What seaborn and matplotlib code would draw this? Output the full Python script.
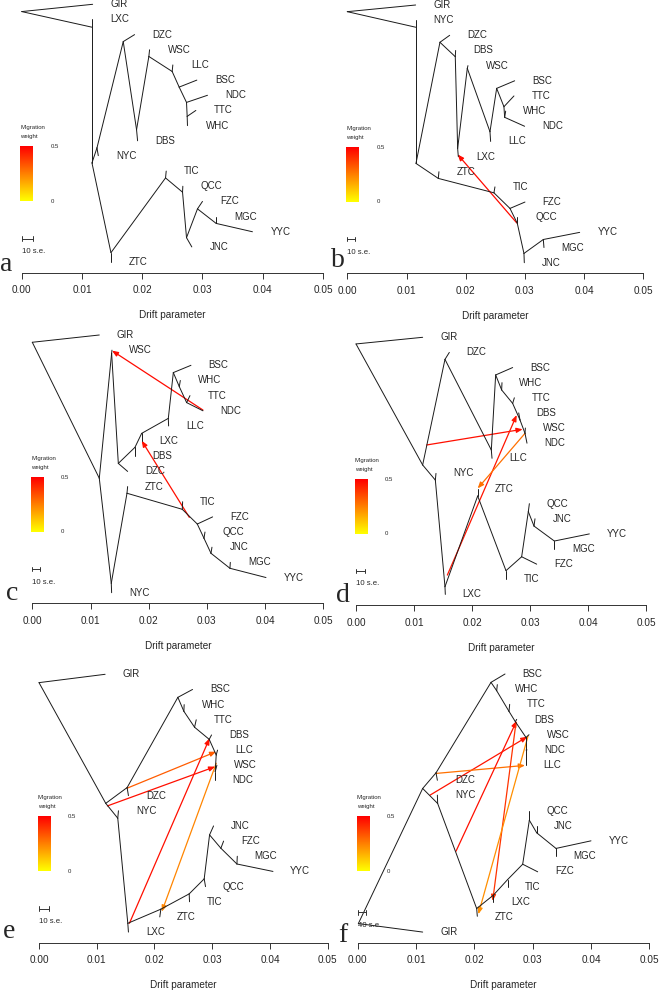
import matplotlib
matplotlib.use("Agg")
import matplotlib.pyplot as plt
import numpy as np
import pandas as pd
import seaborn as sns
from matplotlib.colors import LinearSegmentedColormap
from matplotlib.patches import FancyArrowPatch

# TreeMix trees, 0-5 migration edges.
# node -> (drift, row); tips are named by population, rows count down from the top leaf

order_a = ["GIR", "LXC", "DZC", "WSC", "LLC", "BSC", "NDC", "TTC", "WHC", "DBS",
           "NYC", "TIC", "QCC", "FZC", "MGC", "YYC", "JNC", "ZTC"]
nodes_a = {
    "root": (0.0, 0.48), "GIR": (0.01177, 0.0), "A": (0.01166, 1.51), "LXC": (0.01166, 1.0),
    "B": (0.01166, 10.46), "D": (0.01249, 9.47), "NYC": (0.01271, 9.98),
    "E": (0.01685, 2.46), "DZC": (0.01873, 2.0), "F": (0.01906, 8.27), "DBS": (0.01923, 9.0),
    "G": (0.0211, 3.44), "WSC": (0.02122, 3.0), "H": (0.02497, 4.43), "LLC": (0.02508, 4.0),
    "I": (0.02613, 5.46), "BSC": (0.02906, 5.0), "J": (0.02735, 6.47), "NDC": (0.03083, 6.0),
    "K": (0.02746, 7.39), "TTC": (0.0289, 7.0), "WHC": (0.02751, 8.0),
    "C": (0.01481, 16.38), "ZTC": (0.01481, 17.0), "L": (0.02387, 11.45), "TIC": (0.02398, 11.0),
    "M": (0.02669, 12.39), "QCC": (0.02674, 12.0), "N": (0.02735, 15.39), "JNC": (0.02823, 16.0),
    "O": (0.02917, 13.49), "FZC": (0.0300, 13.0), "P": (0.03227, 14.45), "MGC": (0.03227, 14.0),
    "YYC": (0.03829, 15.0),
}
edges_a = ("root-GIR root-A A-LXC A-B B-D D-NYC D-E E-DZC E-F F-DBS F-G G-WSC G-H H-LLC "
           "H-I I-BSC I-J J-NDC J-K K-TTC K-WHC B-C C-ZTC C-L L-TIC L-M M-QCC M-N N-JNC "
           "N-O O-FZC O-P P-MGC P-YYC").split()
migs_a = []

order_b = ["GIR", "NYC", "DZC", "DBS", "WSC", "BSC", "TTC", "WHC", "NDC", "LLC",
           "LXC", "ZTC", "TIC", "FZC", "QCC", "YYC", "MGC", "JNC"]
nodes_b = {
    "root": (0.0, 0.44), "GIR": (0.01154, 0.0), "A": (0.0116, 1.47), "NYC": (0.0116, 1.0),
    "B": (0.0116, 10.45), "C": (0.01565, 2.46), "DZC": (0.01729, 2.0), "D": (0.01824, 3.41),
    "DBS": (0.0183, 3.0), "F": (0.01864, 9.46), "LXC": (0.01875, 10.0), "G": (0.02027, 4.18),
    "WSC": (0.02038, 4.0), "H": (0.0241, 8.36), "LLC": (0.02421, 9.0), "I": (0.02523, 5.5),
    "BSC": (0.02827, 5.0), "J": (0.02646, 6.71), "TTC": (0.02815, 6.0), "K": (0.02658, 7.41),
    "WHC": (0.02675, 7.0), "NDC": (0.02995, 8.0),
    "L": (0.01537, 11.44), "ZTC": (0.01548, 11.0), "M": (0.02477, 12.39), "TIC": (0.02494, 12.0),
    "N": (0.02748, 13.42), "FZC": (0.03001, 13.0), "O": (0.02872, 14.41), "QCC": (0.02872, 14.0),
    "P": (0.02984, 16.39), "JNC": (0.0299, 17.0), "Q": (0.03311, 15.47), "MGC": (0.03322, 16.0),
    "YYC": (0.03925, 15.0),
}
edges_b = ("root-GIR root-A A-NYC A-B B-C C-DZC C-D D-DBS D-F F-LXC F-G G-WSC G-H H-LLC "
           "H-I I-BSC I-J J-TTC J-K K-WHC K-NDC B-L L-ZTC L-M M-TIC M-N N-FZC N-O O-QCC "
           "O-P P-JNC P-Q Q-MGC Q-YYC").split()
migs_b = [(0.02861, 14.37, 0.01864, 9.86, 0.48)]

order_c = ["GIR", "WSC", "BSC", "WHC", "TTC", "NDC", "LLC", "LXC", "DBS", "DZC",
           "ZTC", "TIC", "FZC", "QCC", "JNC", "MGC", "YYC", "NYC"]
nodes_c = {
    "root": (0.0, 0.48), "GIR": (0.01151, 0.0), "A": (0.01151, 9.45), "W": (0.01363, 1.21),
    "WSC": (0.01369, 1.0), "B": (0.01478, 8.47), "DZC": (0.01638, 9.0), "C": (0.01764, 7.41),
    "DBS": (0.01764, 8.0), "D": (0.01879, 6.49), "LXC": (0.01879, 7.0), "E": (0.02337, 5.5),
    "LLC": (0.02342, 6.0), "F": (0.02423, 2.48), "BSC": (0.02726, 2.0), "G": (0.02526, 3.41),
    "WHC": (0.02543, 3.0), "H": (0.02652, 4.46), "TTC": (0.02709, 4.0), "NDC": (0.02932, 5.0),
    "N": (0.01357, 16.38), "NYC": (0.01363, 17.0), "O": (0.01627, 10.44), "ZTC": (0.01638, 10.0),
    "P": (0.02577, 11.5), "TIC": (0.02583, 11.0), "Q": (0.02835, 12.47), "FZC": (0.03098, 12.0),
    "R": (0.0295, 13.41), "QCC": (0.02967, 13.0), "S": (0.0307, 14.4), "JNC": (0.03087, 14.0),
    "T": (0.03396, 15.39), "MGC": (0.03402, 15.0), "YYC": (0.04015, 16.0),
}
edges_c = ("root-GIR root-A A-W W-WSC W-B B-DZC B-C C-DBS C-D D-LXC D-E E-LLC E-F F-BSC "
           "F-G G-WHC G-H H-TTC H-NDC A-N N-NYC N-O O-ZTC O-P P-TIC P-Q Q-FZC Q-R R-QCC "
           "R-S S-JNC S-T T-MGC T-YYC").split()
migs_c = [(0.02932, 4.95, 0.01369, 1.03, 0.48),
          (0.02698, 12.03, 0.01879, 6.97, 0.47)]

order_d = ["GIR", "DZC", "BSC", "WHC", "TTC", "DBS", "WSC", "NDC", "LLC", "NYC",
           "ZTC", "QCC", "JNC", "YYC", "MGC", "FZC", "TIC", "LXC"]
nodes_d = {
    "root": (0.0, 0.44), "GIR": (0.01149, 0.0), "A": (0.01149, 8.44), "B": (0.01534, 1.46),
    "DZC": (0.01609, 1.0), "C": (0.02333, 7.45), "LLC": (0.02345, 8.0), "D": (0.02408, 2.49),
    "BSC": (0.02701, 2.0), "E": (0.02511, 3.48), "WHC": (0.02517, 3.0), "F": (0.02701, 4.37),
    "TTC": (0.0273, 4.0), "G": (0.02828, 5.47), "DBS": (0.02805, 5.0), "H": (0.02914, 6.35),
    "WSC": (0.0292, 6.0), "NDC": (0.02948, 7.0),
    "I": (0.01368, 9.44), "NYC": (0.01379, 9.0), "J": (0.01534, 16.49), "LXC": (0.0154, 17.0),
    "K": (0.02098, 10.49), "ZTC": (0.02098, 10.0), "L": (0.02586, 15.43), "TIC": (0.02586, 16.0),
    "M": (0.02856, 14.51), "FZC": (0.03115, 15.0), "N": (0.02971, 11.53), "QCC": (0.02989, 11.0),
    "O": (0.03069, 12.48), "JNC": (0.03086, 12.0), "P": (0.0342, 13.47), "MGC": (0.0342, 14.0),
    "YYC": (0.04023, 13.0),
}
edges_d = ("root-GIR root-A A-B B-DZC B-C C-LLC C-D D-BSC D-E E-WHC E-F F-TTC F-G G-DBS "
           "G-H H-WSC H-NDC A-I I-NYC I-J J-LXC J-K K-ZTC K-L L-TIC L-M M-FZC M-N N-QCC "
           "N-O O-JNC O-P P-MGC P-YYC").split()
migs_d = [(0.01218, 7.12, 0.02874, 6.08, 0.47),
          (0.01575, 15.72, 0.0277, 5.14, 0.46),
          (0.02914, 6.35, 0.02098, 9.99, 0.28)]

order_e = ["GIR", "BSC", "WHC", "TTC", "DBS", "LLC", "WSC", "NDC", "DZC", "NYC",
           "JNC", "FZC", "MGC", "YYC", "QCC", "TIC", "ZTC", "LXC"]
nodes_e = {
    "root": (0.0, 0.55), "GIR": (0.01145, 0.0), "A": (0.01156, 8.51), "B": (0.01526, 7.47),
    "DZC": (0.01549, 8.0), "C": (0.02405, 1.52), "BSC": (0.02659, 1.0), "D": (0.02509, 2.44),
    "WHC": (0.02514, 2.0), "E": (0.02694, 3.49), "TTC": (0.02723, 3.0), "F": (0.02948, 4.29),
    "DBS": (0.02988, 4.0), "G": (0.03069, 5.32), "LLC": (0.03092, 5.0), "H": (0.03052, 6.42),
    "WSC": (0.03081, 6.0), "NDC": (0.03052, 7.0),
    "I": (0.01364, 9.49), "NYC": (0.01376, 9.0), "J": (0.01538, 16.42), "LXC": (0.01549, 17.0),
    "K": (0.0211, 15.49), "ZTC": (0.02092, 16.0), "L": (0.02601, 14.48), "TIC": (0.02607, 15.0),
    "M": (0.02861, 13.49), "QCC": (0.02884, 14.0), "N": (0.02954, 10.59), "JNC": (0.03023, 10.0),
    "O": (0.0315, 11.47), "FZC": (0.03197, 11.0), "P": (0.03428, 12.51), "MGC": (0.03434, 12.0),
    "YYC": (0.04052, 13.0),
}
edges_e = ("root-GIR root-A A-B B-DZC B-C C-BSC C-D D-WHC D-E E-TTC E-F F-DBS F-G G-LLC "
           "G-H H-WSC H-NDC A-I I-NYC I-J J-LXC J-K K-ZTC K-L L-TIC L-M M-QCC M-N N-JNC "
           "N-O O-FZC O-P P-MGC P-YYC").split()
migs_e = [(0.01185, 8.68, 0.03052, 6.09, 0.47),
          (0.0152, 7.52, 0.03069, 5.10, 0.32),
          (0.01566, 16.42, 0.02954, 4.22, 0.47),
          (0.03069, 5.87, 0.02127, 15.65, 0.24)]

order_f = ["BSC", "WHC", "TTC", "DBS", "WSC", "NDC", "LLC", "DZC", "NYC", "QCC",
           "JNC", "YYC", "MGC", "FZC", "TIC", "LXC", "ZTC", "GIR"]
nodes_f = {
    "root": (0.00011, 16.44), "GIR": (0.01114, 17.0), "A": (0.01114, 7.54), "B": (0.01343, 6.51),
    "DZC": (0.01366, 7.0), "C": (0.02286, 0.55), "BSC": (0.02526, 0.0), "D": (0.02383, 1.10),
    "WHC": (0.02394, 0.7), "E": (0.02594, 2.46), "TTC": (0.02606, 2.0), "F": (0.02703, 3.14),
    "DBS": (0.02726, 2.99), "G": (0.02886, 4.18), "WSC": (0.02937, 4.0), "H": (0.02886, 5.01),
    "NDC": (0.02903, 5.0), "LLC": (0.02886, 6.02),
    "I": (0.01371, 8.53), "NYC": (0.01366, 7.98), "J": (0.0204, 15.45), "ZTC": (0.02051, 15.96),
    "K": (0.02326, 14.57), "LXC": (0.02326, 14.99), "L": (0.02571, 13.54), "TIC": (0.02571, 14.02),
    "M": (0.02829, 12.53), "FZC": (0.03086, 13.03), "N": (0.02943, 9.63), "QCC": (0.02943, 9.01),
    "O": (0.03069, 10.46), "JNC": (0.03069, 10.0), "P": (0.034, 11.49), "MGC": (0.034, 12.0),
    "YYC": (0.04, 10.99),
}
edges_f = ("root-GIR root-A A-B B-DZC B-C C-BSC C-D D-WHC D-E E-TTC E-F F-DBS F-G G-WSC "
           "G-H H-NDC H-LLC A-I I-NYC I-J J-ZTC J-K K-LXC K-L L-TIC L-M M-FZC M-N N-QCC "
           "N-O O-JNC O-P P-MGC P-YYC").split()
migs_f = [(0.0124, 7.98, 0.02909, 4.13, 0.46),
          (0.01343, 6.55, 0.02869, 6.02, 0.28),
          (0.01686, 11.67, 0.02726, 3.08, 0.47),
          (0.02714, 3.21, 0.02314, 14.95, 0.40),
          (0.0292, 4.09, 0.02069, 15.82, 0.22)]

se_labels = ["10 s.e.", "10 s.e.", "10 s.e.", "10 s.e.", "10 s.e.", "40 s.e."]
se_widths = [0.0019, 0.0013, 0.0013, 0.0016, 0.0017, 0.0014]
panel_letters = ["a", "b", "c", "d", "e", "f"]
drift_ticks = [0.0, 0.01, 0.02, 0.03, 0.04, 0.05]

# panel boxes in pixels: x of drift 0, x of drift 0.05, y of top leaf, y of axis line
boxes = [(21.7, 323.0, 4.3, 272.7), (347.3, 643.3, 5.0, 273.3),
         (32.3, 323.3, 335.0, 603.3), (356.0, 646.0, 337.3, 605.0),
         (39.0, 327.7, 674.3, 942.7), (357.7, 649.3, 674.0, 942.7)]
letter_pos = [(0, 270.5), (331, 267), (6, 600), (336, 601.5), (3, 937.5), (338, 941.5)]
se_rows = [15.45, 15.45, 15.45, 15.45, 15.45, 15.7]

W, H = 660, 991
ROW_MAX = 17.7
heat = LinearSegmentedColormap.from_list("heat", ["#FFFF00", "#FF0000"])

sns.set_theme(style="white")
plt.rcParams["font.family"] = ["Liberation Sans", "DejaVu Sans"]
fig = plt.figure(figsize=(W / 100, H / 100), dpi=100)


def draw_panel(ax, order, nodes, edges, migs, se_label, se_width, se_row):
    recs = []
    for k, e in enumerate(edges):
        for n in e.split("-"):
            recs.append({"edge": k, "drift": nodes[n][0], "row": nodes[n][1]})
    df = pd.DataFrame(recs)
    sns.lineplot(data=df, x="drift", y="row", units="edge", estimator=None, sort=False,
                 color="#1a1a1a", lw=0.7, ax=ax, legend=False)
    for ln in ax.lines:
        ln.set_clip_on(False)

    for i, pop in enumerate(order):
        ax.text(nodes[pop][0] + 0.003, i, pop, fontsize=7, va="center", ha="left")

    for x0, y0, x1, y1, w in migs:
        arr = FancyArrowPatch((x0, y0), (x1, y1), arrowstyle="-|>,head_length=0.45,head_width=0.18",
                              mutation_scale=8, color=heat(w / 0.5), lw=0.9,
                              shrinkA=0, shrinkB=0, clip_on=False)
        ax.add_patch(arr)

    # migration weight legend
    grad = np.linspace(0.5, 0, 100).reshape(-1, 1)
    ax.imshow(grad, cmap=heat, vmin=0, vmax=0.5, extent=[-0.0002, 0.0019, 12.98, 9.37],
              origin="upper", aspect="auto", clip_on=False, zorder=3)
    ax.text(-0.0002, 8.14, "Migration", fontsize=4.3, va="center", ha="left")
    ax.text(-0.0002, 8.73, "weight", fontsize=4.3, va="center", ha="left")
    ax.text(0.0049, 9.37, "0.5", fontsize=4.3, va="center", ha="left")
    ax.text(0.0049, 12.98, "0", fontsize=4.3, va="center", ha="left")

    # s.e. scale bar
    ax.plot([0, se_width], [se_row, se_row], color="#333333", lw=0.7, clip_on=False)
    for xe in (0, se_width):
        ax.plot([xe, xe], [se_row - 0.15, se_row + 0.15], color="#333333", lw=0.7, clip_on=False)
    ax.text(0, se_row + 0.85, se_label, fontsize=5.6, va="center", ha="left")

    ax.set_xlim(0, 0.05)
    ax.set_ylim(ROW_MAX, 0)
    ax.set_xticks(drift_ticks)
    ax.set_xticklabels([f"{t:.2f}" for t in drift_ticks])
    ax.set_yticks([])
    ax.set_ylabel("")
    ax.set_xlabel("Drift parameter", fontsize=7.2, labelpad=11)
    for s in ("top", "left", "right"):
        ax.spines[s].set_visible(False)
    ax.spines["bottom"].set_color("#333333")
    ax.spines["bottom"].set_linewidth(0.7)
    ax.tick_params(axis="x", bottom=True, direction="out", length=4, width=0.7,
                   color="#333333", pad=5, labelsize=7.2)
    ax.patch.set_alpha(0)


panels = [
    (order_a, nodes_a, edges_a, migs_a),
    (order_b, nodes_b, edges_b, migs_b),
    (order_c, nodes_c, edges_c, migs_c),
    (order_d, nodes_d, edges_d, migs_d),
    (order_e, nodes_e, edges_e, migs_e),
    (order_f, nodes_f, edges_f, migs_f),
]

for k, (order, nodes, edges, migs) in enumerate(panels):
    x0, x1, ytop, yax = boxes[k]
    ax = fig.add_axes([x0 / W, 1 - yax / H, (x1 - x0) / W, (yax - ytop) / H])
    draw_panel(ax, order, nodes, edges, migs, se_labels[k], se_widths[k], se_rows[k])
    lx, ly = letter_pos[k]
    fig.text(lx / W, 1 - ly / H, panel_letters[k], fontsize=20,
             family=["Liberation Serif", "DejaVu Serif"], va="baseline", ha="left")

fig.savefig("out.png", dpi=100)
